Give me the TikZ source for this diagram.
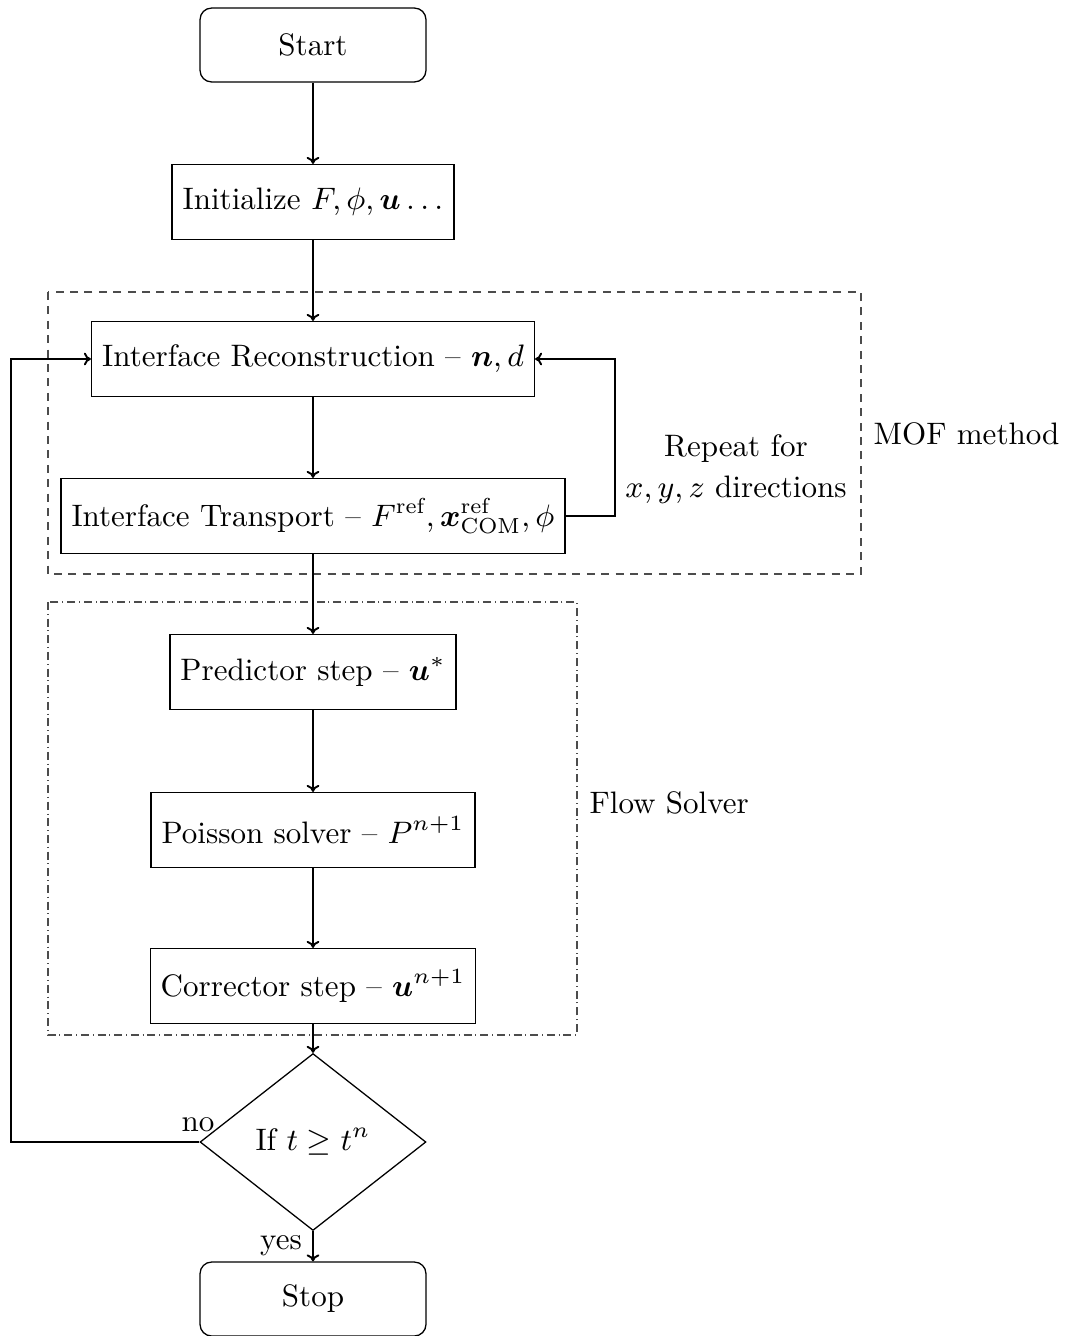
\RequirePackage{fix-cm}
\documentclass[tikz,border=0pt]{standalone}
\usepackage{amsmath,bm}
\usetikzlibrary{shapes.geometric,arrows.meta}
\begin{document}
\begin{tikzpicture}[x=0.3125pt,y=-0.3125pt,
  every node/.style={font=\fontsize{9.7pt}{11.6pt}\selectfont},
  proc/.style={draw, rectangle, minimum height=23.4pt, inner xsep=3.3pt, line width=0.4pt},
  term/.style={draw, rectangle, rounded corners=3.6pt, minimum width=70.6pt, minimum height=23.1pt, line width=0.4pt},
  decide/.style={draw, diamond, minimum width=70.6pt, minimum height=55.3pt, inner sep=0pt, line width=0.4pt},
  flow/.style={-{To[length=2.2pt,width=4pt]}, line width=0.6pt},
  group/.style={draw=black!70, line width=0.4pt},
  txt/.style={inner sep=0pt}]
\useasboundingbox (0,0) rectangle (1065,1336);
% group frames
\draw[group, dash pattern=on 2.5pt off 2pt] (48,292) rectangle (861,574);
\draw[group, dash pattern=on 2.5pt off 1.2pt on 0.3pt off 1.2pt] (48,602) rectangle (577,1035);
% nodes
\node[term] (start) at (313,45) {Start};
\node[proc] (init) at (313,202) {Initialize $F, \phi, \bm{u} \ldots$};
\node[proc] (recon) at (313,359) {Interface Reconstruction -- $\bm{n}, d$};
\node[proc] (trans) at (313,516) {Interface Transport -- $F^{\text{ref}}, \bm{x}^{\text{ref}}_{\text{COM}}, \phi$};
\node[proc] (pred) at (313,672) {Predictor step -- $\bm{u}^{*}$};
\node[proc] (pois) at (313,830) {Poisson solver -- $P^{n+1}$};
\node[proc] (corr) at (313,986) {Corrector step -- $\bm{u}^{n+1}$};
\node[decide] (dec) at (313,1142) {If $t \geq t^{n}$};
\node[term] (stop) at (313,1299) {Stop};
% labels
\node[align=center, inner sep=0pt] (rep) at (736,469) {Repeat for\\[1pt]$x, y, z$ directions};
\node[anchor=west, txt] (mof) at (873,434) {MOF method};
\node[anchor=west, txt] (fs) at (589,803) {Flow Solver};
\node[txt] (no) at (198,1125) {no};
\node[txt] (yes) at (281,1246) {yes};
% connectors
\draw[flow] (start) -- (init);
\draw[flow] (init) -- (recon);
\draw[flow] (recon) -- (trans);
\draw[flow] (trans) -- (pred);
\draw[flow] (pred) -- (pois);
\draw[flow] (pois) -- (corr);
\draw[flow] (corr) -- (dec);
\draw[flow] (dec) -- (stop);
\coordinate (rloop) at (615,359);
\coordinate (lloop) at (11,359);
\draw[flow] (trans.east) -| (rloop) -- (recon.east);
\draw[flow] (dec.west) -| (lloop) -- (recon.west);
\end{tikzpicture}
\end{document}
